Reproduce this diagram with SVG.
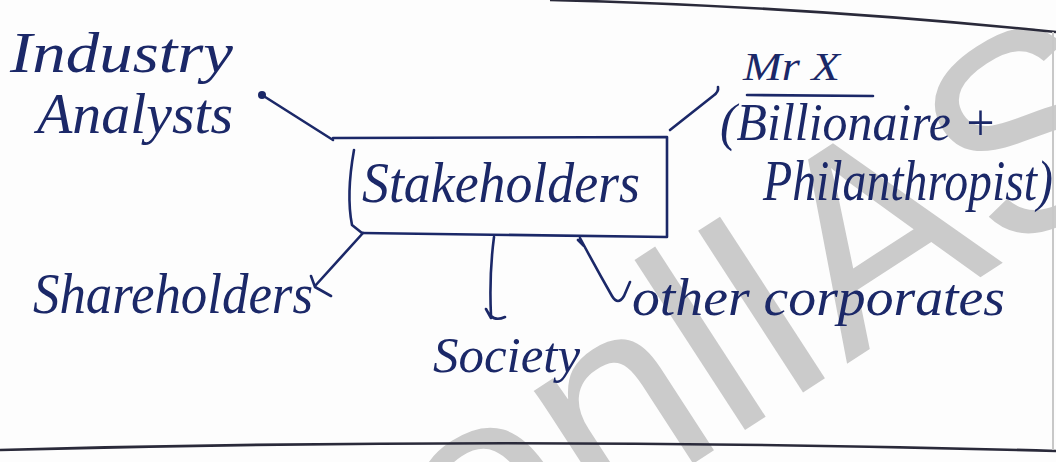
<svg xmlns="http://www.w3.org/2000/svg" width="1056" height="462" viewBox="0 0 1056 462">
<style>
.ink{font-family:"Liberation Serif",serif;font-style:italic;fill:#1b2868}
.ln{fill:none;stroke:#1b2868;stroke-width:2.6;stroke-linecap:round;stroke-linejoin:round}
.page{fill:none;stroke:#2a2a3a;stroke-width:2.6}
.wm{font-family:"Liberation Sans",sans-serif;fill:#cbcbcb}
</style>
<rect width="1056" height="462" fill="#fdfdfd"/>
<g id="watermark">
<text class="wm" font-size="280" transform="translate(468,610) rotate(-33)">onlIAS</text>
</g>
<g id="page-lines">
<path class="page" d="M550,0 Q800,6 1056,32"/>
<path class="page" d="M0,450 Q520,436 1056,451"/>
<path d="M1053,32 L1053,450" stroke="#c8c8c8" stroke-width="2" fill="none"/>
</g>
<g id="connectors">
<circle cx="262" cy="95" r="4" fill="#1b2868"/>
<path class="ln" d="M262,95 L333,140"/>
<path class="ln" d="M670,130 L713,96 Q719,92 718,87"/>
<path class="ln" d="M363,233 L315,286 M311,276 L315,287 L331,296"/>
<path class="ln" d="M494,237 Q489,275 491,316 Q496,321 505,317 M486,309 L491,318"/>
<path class="ln" d="M578,240 L584,246 M580,238 Q596,268 612,296 Q618,306 624,296 L630,282"/>
</g>
<g id="node-stakeholders">
<path class="ln" d="M333,138 L667,137 L667,237 L362,233"/>
<path class="ln" d="M354,150 Q346,195 352,225 L362,233"/>
<text class="ink" x="362" y="202" font-size="56" textLength="278" lengthAdjust="spacingAndGlyphs">Stakeholders</text>
</g>
<g id="node-analysts">
<text class="ink" x="10" y="72" font-size="58" textLength="223" lengthAdjust="spacingAndGlyphs">Industry</text>
<text class="ink" x="37" y="133" font-size="58" textLength="196" lengthAdjust="spacingAndGlyphs">Analysts</text>
</g>
<g id="node-mrx">
<text class="ink" x="743" y="80" font-size="40" textLength="97" lengthAdjust="spacingAndGlyphs">Mr X</text>
<path class="ln" d="M747,95 L873,96"/>
<text class="ink" x="720" y="140" font-size="52" textLength="277" lengthAdjust="spacingAndGlyphs">(Billionaire +</text>
<text class="ink" x="763" y="200" font-size="56" textLength="290" lengthAdjust="spacingAndGlyphs">Philanthropist)</text>
</g>
<g id="node-shareholders">
<text class="ink" x="33" y="313" font-size="56" textLength="280" lengthAdjust="spacingAndGlyphs">Shareholders</text>
</g>
<g id="node-society">
<text class="ink" x="433" y="372" font-size="50" textLength="147" lengthAdjust="spacingAndGlyphs">Society</text>
</g>
<g id="node-other">
<text class="ink" x="632" y="315" font-size="52" textLength="373" lengthAdjust="spacingAndGlyphs">other corporates</text>
</g>
</svg>
